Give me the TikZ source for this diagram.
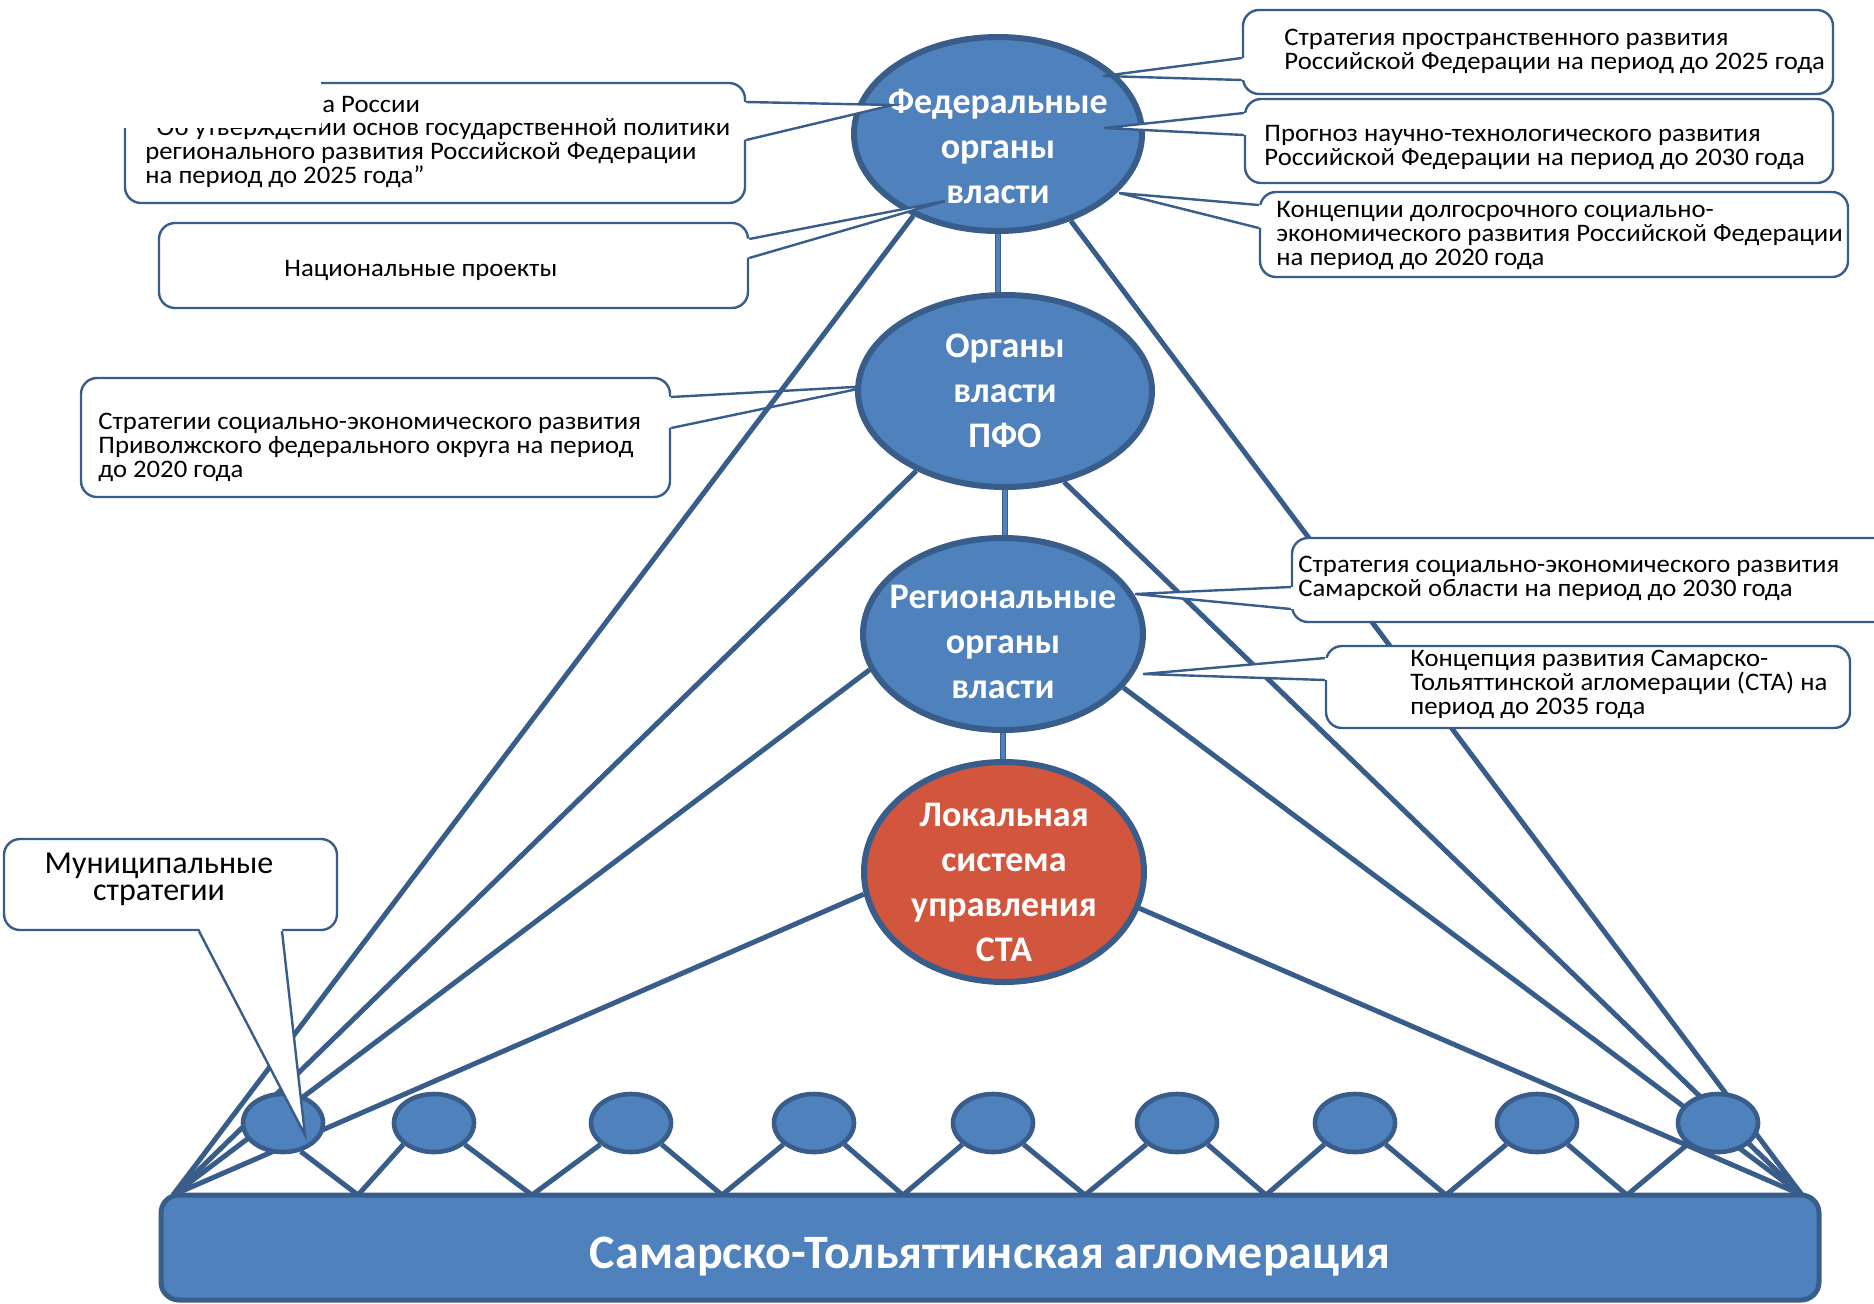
\documentclass[tikz,border=0pt]{standalone}
\usepackage{fontspec}
\setmainfont{Carlito}
\newfontfamily\notefont[FakeStretch=1.06]{Carlito}
\newcommand\tightlines{\lineskiplimit=-20pt\relax}
\usetikzlibrary{shapes.geometric, calc}
\pgfdeclarelayer{bg}
\pgfdeclarelayer{links}
\pgfdeclarelayer{fg}
\pgfsetlayers{bg,links,main,fg}

\definecolor{accfill}{HTML}{4F81BD}
\definecolor{accline}{HTML}{385D8A}
\definecolor{locfill}{HTML}{D2553D}

\begin{document}
\begin{tikzpicture}[x=0.5pt, y=-0.5pt, line join=round,
  organ/.style={ellipse, draw=accline, fill=accfill, line width=3pt, inner sep=0pt},
  organtext/.style={text=white, align=center, inner sep=0pt, font=\bfseries\fontsize{18}{22.5}\selectfont},
  town/.style={ellipse, draw=accline, fill=accfill, line width=2.3pt, inner sep=0pt, minimum width=40pt, minimum height=29pt},
  link/.style={draw=accline, line width=2.5pt},
  stem/.style={draw=accline, double=accfill, line width=0.6pt, double distance=1.8pt},
  note/.style={draw=accline, fill=white, line width=1.2pt, rounded corners=8pt},
  notetext/.style={align=left, inner sep=0pt, font=\notefont\fontsize{12.6}{12}\selectfont\tightlines},
  wedge/.style={draw=accline, line width=1.2pt, line join=miter}]

\useasboundingbox (0,0) rectangle (1874,1303);

% ---- levels of power ---------------------------------------------------------------
\node[organ, minimum width=144pt, minimum height=97pt] (fed) at (998,134) {};
\node[organtext] (fedtxt) at ([yshift=-6pt]fed.center) {Федеральные\\органы\\власти};
\node[organ, minimum width=147pt, minimum height=96pt] (pfo) at (1005,391) {};
\node[organtext] (pfotxt) at (pfo.center) {Органы\\власти\\ПФО};
\node[organ, minimum width=140pt, minimum height=96pt] (reg) at (1003,634) {};
\node[organtext] (regtxt) at ([yshift=-4pt]reg.center) {Региональные\\органы\\власти};
\node[organ, fill=locfill, minimum width=140pt, minimum height=110pt] (loc) at (1004,872) {};
\node[organtext] (loctxt) at ([yshift=-5pt]loc.center) {Локальная\\система\\управления\\СТА};

% ---- the agglomeration and its municipalities ------------------------------------
\node[draw=accline, fill=accfill, line width=2.5pt, rounded corners=9pt,
  minimum width=829pt, minimum height=52.5pt] (sta) at (990,1247.5) {};
\node[text=white, font=\bfseries\fontsize{24}{28}\selectfont] (statxt) at ([yshift=-4.5pt]sta.center)
  {Самарско-Тольяттинская агломерация};

\node[town] (s1) at (283,1123) {};
\node[town] (s2) at (434,1123) {};
\node[town] (s3) at (631,1123) {};
\node[town] (s4) at (814,1123) {};
\node[town] (s5) at (993,1123) {};
\node[town] (s6) at (1177,1123) {};
\node[town] (s7) at (1355,1123) {};
\node[town] (s8) at (1537,1123) {};
\node[town] (s9) at (1718,1123) {};

\coordinate (apexL) at (173,1195);
\coordinate (apexR) at (1802,1195);

% ---- links from the corners of the agglomeration ---------------------------------
\begin{pgfonlayer}{links}
\draw[link] (apexL) -- (fed.224);
\draw[link] (apexL) -- (pfo.222);
\draw[link] (apexL) -- (reg.195);
\draw[link] (apexL) -- (loc.189);
\draw[link] (apexR) -- (fed.310);
\draw[link] (apexR) -- (pfo.303);
\draw[link] (apexR) -- (reg.336);
\draw[link] (apexR) -- (loc.345);

\draw[stem] (fed.south) -- (fed.south |- pfo.north);
\draw[stem] (pfo.south) -- (pfo.south |- reg.north);
\draw[stem] (reg.south) -- (reg.south |- loc.north);

% municipalities standing on the agglomeration
\draw[link] (s1.302) -- (358,1195) -- (s2.215);
\draw[link] (s2.325) -- (532,1195) -- (s3.215);
\draw[link] (s3.325) -- (722,1195) -- (s4.215);
\draw[link] (s4.325) -- (903,1195) -- (s5.215);
\draw[link] (s5.325) -- (1085,1195) -- (s6.215);
\draw[link] (s6.325) -- (1266,1195) -- (s7.215);
\draw[link] (s7.325) -- (1446,1195) -- (s8.215);
\draw[link] (s8.325) -- (1627,1195) -- (s9.215);
\end{pgfonlayer}

% ---- PFO strategy, lying under the links ------------------------------------------
\begin{pgfonlayer}{bg}
\node[note, minimum width=294.5pt, minimum height=59.5pt] (boxC) at (375.5,437.5) {};
\node[notetext, anchor=west] (txtC) at (98,447)
  {Стратегии социально-экономического развития\\Приволжского федерального округа на период\\до 2020 года};
\coordinate (tipC) at (872,386);
\coordinate (c1) at (boxC.east |- 0,397);
\coordinate (c2) at (boxC.east |- 0,428);
\fill[white] ([xshift=-1.5pt]c1) -- (tipC) -- ([xshift=-1.5pt]c2) -- cycle;
\draw[wedge] (c1) -- (tipC) -- (c2);
\end{pgfonlayer}

% ---- federal documents ------------------------------------------------------------
\begin{pgfonlayer}{fg}
\node[note, minimum width=310pt, minimum height=60pt] (boxA) at (435,143) {};
\node[notetext, anchor=west] (txtA) at (145,152)
  {“Об утверждении основ государственной политики\\регионального развития Российской Федерации\\на период до 2025 года”};
\fill[white] (112,72) rectangle (321,128);
\node[notetext, anchor=west] (txtA0) at (322,104) {а России};
\coordinate (tipA) at (893,105);
\coordinate (a1) at (boxA.east |- 0,102);
\coordinate (a2) at (boxA.east |- 0,140);
\fill[white] ([xshift=-1.5pt]a1) -- (tipA) -- ([xshift=-1.5pt]a2) -- cycle;
\draw[wedge] (a1) -- (tipA) -- (a2);

\node[note, minimum width=294.5pt, minimum height=42.5pt] (boxB) at (453.5,265.5) {};
\node[notetext, anchor=west] (txtB) at (284,270) {Национальные проекты};
\coordinate (tipB) at (945,201);
\coordinate (b1) at (boxB.east |- 0,239);
\coordinate (b2) at (boxB.east |- 0,258);
\fill[white] ([xshift=-1.5pt]b1) -- (tipB) -- ([xshift=-1.5pt]b2) -- cycle;
\draw[wedge] (b1) -- (tipB) -- (b2);

\node[note, minimum width=295pt, minimum height=42pt] (boxD) at (1538,52) {};
\node[notetext, anchor=west] (txtD) at (1284,51)
  {Стратегия пространственного развития\\Российской Федерации на период до 2025 года};
\coordinate (tipD) at (1103,76);
\coordinate (d1) at (boxD.west |- 0,58);
\coordinate (d2) at (boxD.west |- 0,80);
\fill[white] ([xshift=1.5pt]d1) -- (tipD) -- ([xshift=1.5pt]d2) -- cycle;
\draw[wedge] (d1) -- (tipD) -- (d2);

\node[note, minimum width=294pt, minimum height=42pt] (boxE) at (1539,141) {};
\node[notetext, anchor=west] (txtE) at (1264,147)
  {Прогноз научно-технологического развития\\Российской Федерации на период до 2030 года};
\coordinate (tipE) at (1104,128);
\coordinate (e1) at (boxE.west |- 0,113);
\coordinate (e2) at (boxE.west |- 0,135);
\fill[white] ([xshift=1.5pt]e1) -- (tipE) -- ([xshift=1.5pt]e2) -- cycle;
\draw[wedge] (e1) -- (tipE) -- (e2);

\node[note, minimum width=294pt, minimum height=42.5pt] (boxF) at (1554,234.5) {};
\node[notetext, anchor=west] (txtF) at (1276,235)
  {Концепции долгосрочного социально-\\экономического развития Российской Федерации\\на период до 2020 года};
\coordinate (tipF) at (1119,193);
\coordinate (f1) at (boxF.west |- 0,205);
\coordinate (f2) at (boxF.west |- 0,228);
\fill[white] ([xshift=1.5pt]f1) -- (tipF) -- ([xshift=1.5pt]f2) -- cycle;
\draw[wedge] (f1) -- (tipF) -- (f2);

% ---- regional documents -----------------------------------------------------------
\node[note, minimum width=309pt, minimum height=42pt] (boxG) at (1601,580) {};
\node[notetext, anchor=west] (txtG) at (1298,578)
  {Стратегия социально-экономического развития\\Самарской области на период до 2030 года};
\coordinate (tipG) at (1135,594);
\coordinate (g1) at (boxG.west |- 0,587);
\coordinate (g2) at (boxG.west |- 0,609);
\fill[white] ([xshift=1.5pt]g1) -- (tipG) -- ([xshift=1.5pt]g2) -- cycle;
\draw[wedge] (g1) -- (tipG) -- (g2);

\node[note, minimum width=262pt, minimum height=41pt] (boxH) at (1588,687) {};
\node[notetext, anchor=west] (txtH) at (1410,684)
  {Концепция развития Самарско-\\Тольяттинской агломерации (СТА) на\\период до 2035 года};
\coordinate (tipH) at (1143,674);
\coordinate (h1) at (boxH.west |- 0,658);
\coordinate (h2) at (boxH.west |- 0,680);
\fill[white] ([xshift=1.5pt]h1) -- (tipH) -- ([xshift=1.5pt]h2) -- cycle;
\draw[wedge] (h1) -- (tipH) -- (h2);

% ---- municipal level --------------------------------------------------------------
\node[note, minimum width=166.5pt, minimum height=45.5pt] (boxI) at (170.5,884.5) {};
\node[align=center, inner sep=0pt, font=\fontsize{16}{13.7}\selectfont\tightlines] (txtI) at (159,879)
  {Муниципальные\\стратегии};
\coordinate (tipI) at (305,1135);
\coordinate (i1) at (199,0 |- boxI.south);
\coordinate (i2) at (282,0 |- boxI.south);
\fill[white] ([yshift=1.5pt]i1) -- (tipI) -- ([yshift=1.5pt]i2) -- cycle;
\draw[wedge] (i1) -- (tipI) -- (i2);
\end{pgfonlayer}

\end{tikzpicture}
\end{document}
